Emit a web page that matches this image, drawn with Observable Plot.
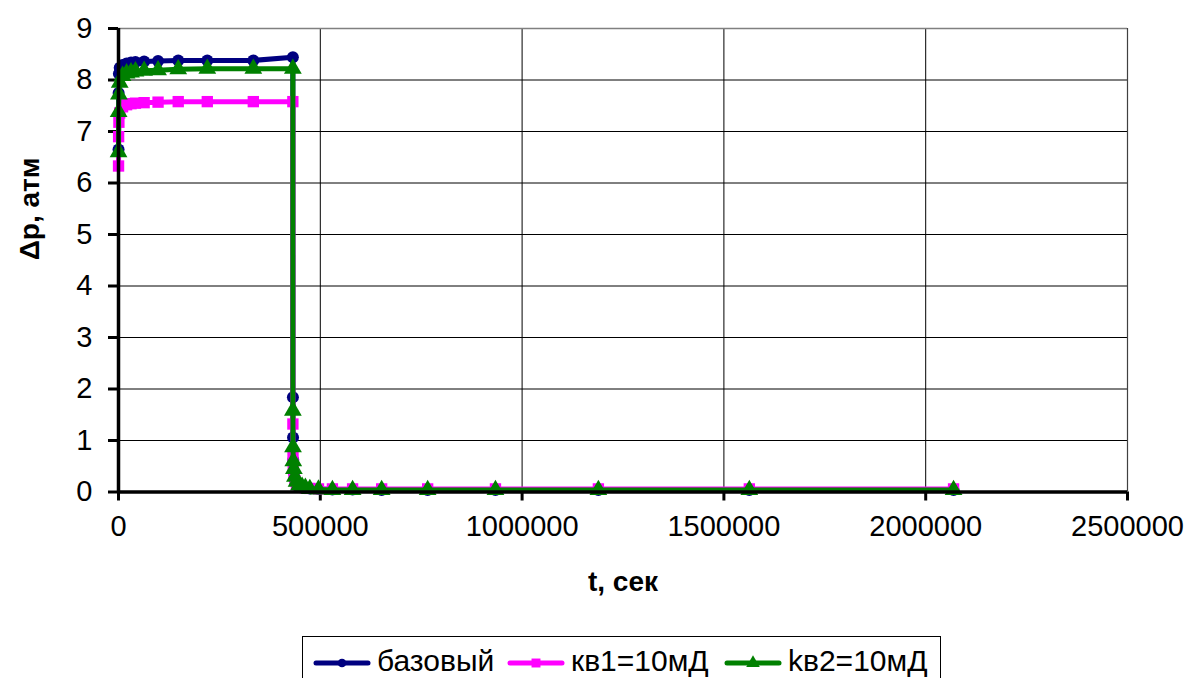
<!DOCTYPE html>
<html>
<head>
<meta charset="utf-8">
<script src="https://cdn.jsdelivr.net/npm/d3@7"></script>
<script src="https://cdn.jsdelivr.net/npm/@observablehq/plot@0.6"></script>
<style>
  html, body { margin: 0; padding: 0; background: #fff; }
  body { position: relative; width: 1190px; height: 678px; overflow: hidden;
         font-family: "Liberation Sans", Arial, sans-serif; }
  #chart { position: absolute; left: 0; top: 0; }
  .legend { position: absolute; left: 302px; top: 636px; width: 639px; height: 52px;
            border: 1.5px solid #000; box-sizing: border-box; background: #fff; }
  .legend .item { position: absolute; top: 0; height: 52px; display: flex; align-items: center; }
  .legend .item span { font-size: 30px; color: #000; margin-left: 6px; line-height: 1; position: relative; top: -2px; }
</style>
</head>
<body>
<div id="chart"></div>
<div class="legend" id="legend"></div>
<script>
// Simulation output times, seconds (injection until 432000 s, then shut-in)
const timeSec = [
  100, 300, 1000, 3000, 10000, 20000, 31000, 42000, 63500, 98000, 148000, 220000, 334000, 432000,
  432100, 432400, 433000, 434500, 437000, 441000, 447000, 455000, 463000, 474000, 495500,
  530000, 580000, 652000, 766000, 934000, 1189000, 1563000, 2069000
];

// Pressure difference Δp, atm
const dpBase = [
  6.65, 7.75, 8.12, 8.24, 8.29, 8.32, 8.34, 8.35, 8.36, 8.37, 8.38, 8.38, 8.38, 8.44,
  1.84, 1.06, 0.62, 0.38, 0.24, 0.16, 0.12, 0.10, 0.08, 0.07, 0.06,
  0.05, 0.05, 0.04, 0.04, 0.04, 0.04, 0.04, 0.04
];
const dpKv1 = [
  6.33, 6.90, 7.18, 7.36, 7.48, 7.52, 7.54, 7.55, 7.56, 7.57, 7.58, 7.58, 7.58, 7.58,
  1.32, 0.68, 0.46, 0.32, 0.22, 0.15, 0.11, 0.09, 0.08, 0.07, 0.06,
  0.06, 0.06, 0.06, 0.06, 0.06, 0.06, 0.06, 0.06
];
const dpKv2 = [
  6.60, 7.38, 7.72, 7.95, 8.08, 8.13, 8.15, 8.17, 8.18, 8.19, 8.21, 8.22, 8.22, 8.22,
  1.58, 0.87, 0.60, 0.45, 0.30, 0.20, 0.13, 0.10, 0.08, 0.06, 0.05,
  0.04, 0.04, 0.04, 0.04, 0.04, 0.04, 0.04, 0.04
];

const seriesNames = ["базовый", "кв1=10мД", "kв2=10мД"];
const seriesColors = ["#000080", "#ff00ff", "#008000"];
const seriesSymbols = ["circle", "square", "triangle"];
const seriesR = [6, 6.4, 6.6];

const xTicks = [0, 500000, 1000000, 1500000, 2000000, 2500000];
const yTicks = [0, 1, 2, 3, 4, 5, 6, 7, 8, 9];

const seriesValues = [dpBase, dpKv1, dpKv2];
const rowsFor = (k) => timeSec.map((t, i) => ({ t, dp: seriesValues[k][i] }));

const seriesMarks = seriesNames.flatMap((name, k) => [
  Plot.line(rowsFor(k), { x: "t", y: "dp", stroke: seriesColors[k], strokeWidth: 5 }),
  Plot.dot(rowsFor(k), { x: "t", y: "dp", symbol: () => seriesSymbols[k], r: seriesR[k],
                         fill: seriesColors[k], stroke: "none" })
]);

const chart = Plot.plot({
  width: 1190,
  height: 632,
  marginLeft: 118,
  marginRight: 63,
  marginTop: 28,
  marginBottom: 140.5,
  style: { fontFamily: "'Liberation Sans', Arial, sans-serif", background: "#fff", color: "#000" },
  x: { domain: [0, 2500000] },
  y: { domain: [0, 9] },
  symbol: { type: "identity" },
  marks: [
    Plot.gridY(yTicks.slice(1, -1), { stroke: "#000", strokeOpacity: 1, strokeWidth: 1 }),
    Plot.gridX(xTicks.slice(1, -1), { stroke: "#000", strokeOpacity: 1, strokeWidth: 1 }),
    Plot.ruleY([9], { stroke: "#808080", strokeWidth: 1.5 }),
    Plot.ruleX([2500000], { stroke: "#404040", strokeWidth: 1.2 }),
    Plot.axisY(yTicks, { tickSize: 10, tickPadding: 16, strokeWidth: 3, fontSize: 29, label: null,
                         tickFormat: d3.format("d") }),
    Plot.axisX(xTicks, { tickSize: 9, tickPadding: 14, strokeWidth: 3, fontSize: 29, label: null,
                         tickFormat: d3.format("d") }),
    ...seriesMarks,
    Plot.ruleX([0], { stroke: "#000", strokeWidth: 3.5 }),
    Plot.ruleY([0], { stroke: "#000", strokeWidth: 3.5 }),
    Plot.text(["t, сек"], { frameAnchor: "bottom", dy: 99, fontSize: 28, fontWeight: "bold" }),
    Plot.text(["Δp, атм"], { frameAnchor: "left", dx: -88, rotate: -90, fontSize: 28, fontWeight: "bold" })
  ]
});
document.getElementById("chart").appendChild(chart);

// Legend below the chart
const legendLeft = [10, 204, 421];
const legend = d3.select("#legend");
seriesNames.forEach((name, k) => {
  const item = legend.append("div").attr("class", "item").style("left", legendLeft[k] + "px");
  const svg = item.append("svg").attr("width", 58).attr("height", 20);
  svg.append("line").attr("x1", 3).attr("x2", 55).attr("y1", 10).attr("y2", 10)
    .attr("stroke", seriesColors[k]).attr("stroke-width", 5).attr("stroke-linecap", "round");
  svg.append("path").attr("transform", "translate(29,10)")
    .attr("d", d3.symbol(seriesSymbols[k] === "circle" ? d3.symbolCircle :
                         seriesSymbols[k] === "square" ? d3.symbolSquare : d3.symbolTriangle,
                         seriesSymbols[k] === "circle" ? 60 : 80)())
    .attr("fill", seriesColors[k]);
  item.append("span").text(name);
});
</script>
</body>
</html>
